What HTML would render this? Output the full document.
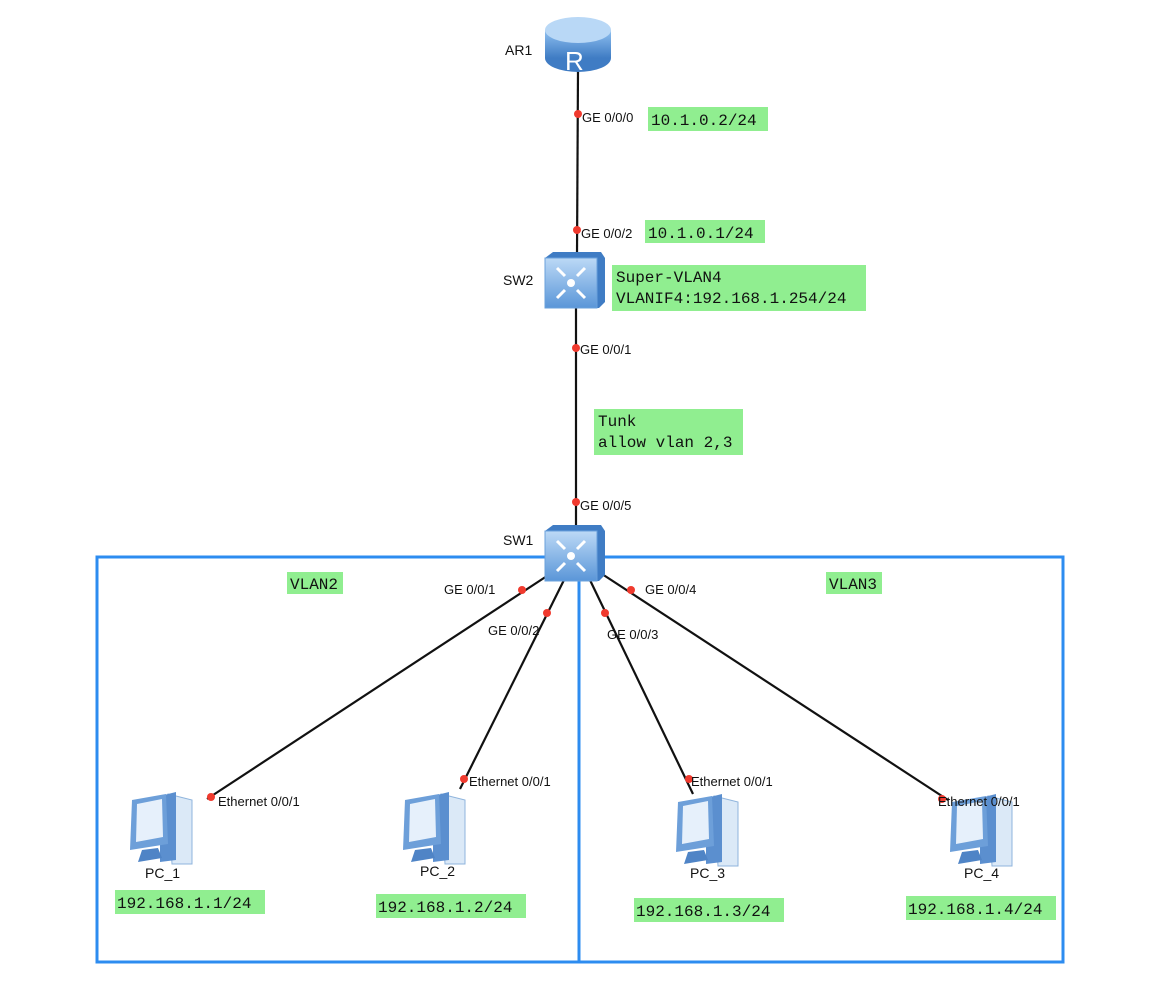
<!DOCTYPE html>
<html><head><meta charset="utf-8"><style>
html,body{margin:0;padding:0;background:#fff;}
svg{display:block}
.l{font-family:"Liberation Sans",sans-serif;font-size:14px;fill:#111}
.s{font-family:"Liberation Sans",sans-serif;font-size:13px;fill:#111}
.m{font-family:"Liberation Mono",monospace;font-size:16px;fill:#111}
</style></head><body>
<svg width="1171" height="981" viewBox="0 0 1171 981" xmlns="http://www.w3.org/2000/svg">
<defs>
<linearGradient id="bg" x1="0" y1="0" x2="0" y2="1"><stop offset="0" stop-color="#bcd9f6"/><stop offset="1" stop-color="#5a96d8"/></linearGradient>
<linearGradient id="rg" x1="0" y1="0" x2="0" y2="1"><stop offset="0" stop-color="#8fc0f0"/><stop offset="1" stop-color="#3f7cc4"/></linearGradient>
<g id="sw">
 <path d="M0 6 L8 0 L56 0 L60 6 L60 50 L54 56 L0 56 Z" fill="#3f7cc4"/>
 <rect x="0" y="6" width="52" height="50" fill="url(#bg)" stroke="#6aa0db"/>
 <circle cx="26" cy="31" r="4" fill="#fff"/>
 <path d="M12 16 l8 8 M12 46 l8 -8 M40 16 l-8 8 M40 46 l-8 -8" stroke="#fff" stroke-width="3"/>
</g>
<g id="pc">
 <path d="M38 4 L62 10 L62 74 L42 74 Z" fill="#dbe9f7" stroke="#8fb4dc"/>
 <path d="M30 6 L46 2 L46 70 L30 72 Z" fill="#5b8fcf"/>
 <path d="M2 10 L36 4 L38 54 L0 60 Z" fill="#6d9fd9"/>
 <path d="M7 14 L32 9 L33 47 L6 52 Z" fill="#e6f0fb"/>
 <path d="M12 60 L28 58 L32 68 L8 72 Z" fill="#4f84c6"/>
</g>
</defs>
<rect x="97" y="557" width="966" height="405" fill="none" stroke="#2d8cf0" stroke-width="3"/>
<line x1="579" y1="557" x2="579" y2="962" stroke="#2d8cf0" stroke-width="3"/>
<g stroke="#111" stroke-width="2.2">
<line x1="578" y1="70" x2="577" y2="255"/>
<line x1="576" y1="300" x2="576" y2="528"/>
<line x1="550" y1="574" x2="207" y2="799"/>
<line x1="566" y1="576" x2="460" y2="789"/>
<line x1="589" y1="578" x2="693" y2="794"/>
<line x1="602" y1="574" x2="948" y2="800"/>
</g>
<g>
<ellipse cx="578" cy="58" rx="33" ry="14" fill="#3f7cc4"/>
<rect x="545" y="30" width="66" height="28" fill="url(#rg)"/>
<ellipse cx="578" cy="30" rx="33" ry="13" fill="#b9d8f6"/>
<text x="565" y="70" font-family="Liberation Sans,sans-serif" font-size="26" fill="#fff">R</text>
</g>
<use href="#sw" x="545" y="252"/>
<use href="#sw" x="545" y="525"/>
<use href="#pc" x="130" y="790"/>
<use href="#pc" x="403" y="790"/>
<use href="#pc" x="676" y="792"/>
<use href="#pc" x="950" y="792"/>
<g fill="#f03a2e">
<circle cx="578" cy="114" r="4"/><circle cx="577" cy="230" r="4"/>
<circle cx="576" cy="348" r="4"/><circle cx="576" cy="502" r="4"/>
<circle cx="522" cy="590" r="4"/><circle cx="547" cy="613" r="4"/>
<circle cx="605" cy="613" r="4"/><circle cx="631" cy="590" r="4"/>
<circle cx="211" cy="797" r="4"/><circle cx="464" cy="779" r="4"/>
<circle cx="689" cy="779" r="4"/><circle cx="942" cy="799" r="4"/>
</g>
<text class="l" x="505" y="55">AR1</text>
<text class="l" x="503" y="285">SW2</text>
<text class="l" x="503" y="545">SW1</text>
<text class="s" x="582" y="122">GE 0/0/0</text>
<text class="s" x="581" y="238">GE 0/0/2</text>
<text class="s" x="580" y="354">GE 0/0/1</text>
<text class="s" x="580" y="510">GE 0/0/5</text>
<text class="s" x="444" y="594">GE 0/0/1</text>
<text class="s" x="488" y="635">GE 0/0/2</text>
<text class="s" x="607" y="639">GE 0/0/3</text>
<text class="s" x="645" y="594">GE 0/0/4</text>
<text class="s" x="218" y="806">Ethernet 0/0/1</text>
<text class="s" x="469" y="786">Ethernet 0/0/1</text>
<text class="s" x="691" y="786">Ethernet 0/0/1</text>
<text class="s" x="938" y="806">Ethernet 0/0/1</text>
<text class="l" x="145" y="878">PC_1</text>
<text class="l" x="420" y="876">PC_2</text>
<text class="l" x="690" y="878">PC_3</text>
<text class="l" x="964" y="878">PC_4</text>
<g fill="#90ee90">
<rect x="648" y="107" width="120" height="24"/>
<rect x="645" y="220" width="120" height="23"/>
<rect x="612" y="265" width="254" height="46"/>
<rect x="594" y="409" width="149" height="46"/>
<rect x="287" y="572" width="56" height="22"/>
<rect x="826" y="572" width="56" height="22"/>
<rect x="115" y="890" width="150" height="24"/>
<rect x="376" y="894" width="150" height="24"/>
<rect x="634" y="898" width="150" height="24"/>
<rect x="906" y="896" width="150" height="24"/>
</g>
<text class="m" x="651" y="125">10.1.0.2/24</text>
<text class="m" x="648" y="238">10.1.0.1/24</text>
<text class="m" x="616" y="282">Super-VLAN4</text>
<text class="m" x="616" y="303">VLANIF4:192.168.1.254/24</text>
<text class="m" x="598" y="426">Tunk</text>
<text class="m" x="598" y="447">allow vlan 2,3</text>
<text class="m" x="290" y="589">VLAN2</text>
<text class="m" x="829" y="589">VLAN3</text>
<text class="m" x="117" y="908">192.168.1.1/24</text>
<text class="m" x="378" y="912">192.168.1.2/24</text>
<text class="m" x="636" y="916">192.168.1.3/24</text>
<text class="m" x="908" y="914">192.168.1.4/24</text>
</svg>
</body></html>
